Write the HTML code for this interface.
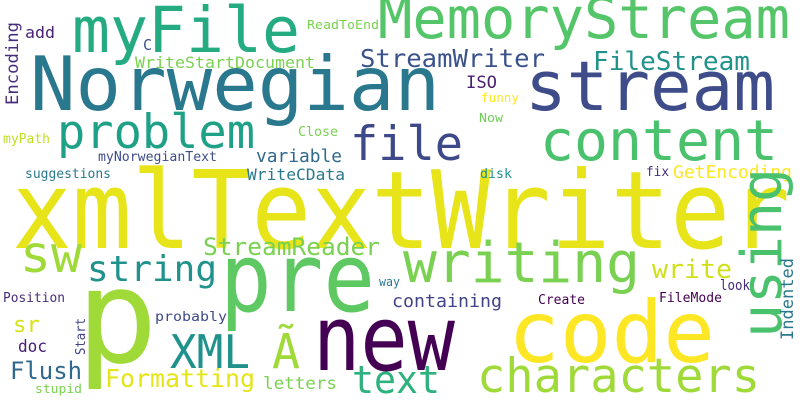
<!DOCTYPE html>
<html><head><meta charset="utf-8"><style>
html,body{margin:0;padding:0;background:#fff;width:800px;height:400px;overflow:hidden}
svg text{font-family:"DejaVu Sans Mono","Liberation Mono",monospace}
</style></head><body>
<svg id="cloud" width="800" height="400" viewBox="0 0 800 400" xmlns="http://www.w3.org/2000/svg">
<rect width="800" height="400" fill="#fff"/>
</svg>
<script>
const words=["xmlTextWriter","Norwegian","stream","MemoryStream","myFile","file","content","problem","StreamWriter","FileStream","ISO","funny","Now","ReadToEnd","C","WriteStartDocument","Encoding","add","Close","myPath","myNorwegianText","variable","suggestions","WriteCData","disk","fix","GetEncoding","sw","string","StreamReader","pre","p","writing","write","using","Indented","look","containing","Create","FileMode","way","code","new","XML","Ã","text","characters","Position","probably","sr","Start","doc","Flush","Formatting","letters","stupid"];
const sizes=[108,75,69,57,63,47,56,47,25,26,17,12,12,12,15,16,17,16,13,13,13,18,13,16,13,13,18,51,36,24,95,130,56,26,56,17,14,18,13,13,12,86,90,46,48,38,47,13,13,22,13,17,24,25,17,12];
const xs=[12,30,525,378,72,350,540,57,360,593,466,481,479,307,143,135,18,25,298,3,98,256,25,247,480,646,673,20,87,203,220,76,403,652,781,793,720,392,538,659,379,508,313,170,272,352,477,3,155,13,85,18,10,105,263,35];
const ys=[248,110,110,38,52,160,160,148,67,70,88,102,122,29,50,68,105,38,136,143,161,162,178,180,178,176,178,272,281,255,311,362,282,278,338,340,290,307,304,302,286,362,370,368,368,393,392,302,321,332,355,352,379,387,389,393];
const lens=[778,410,250,412,228,113,238,198,185,157,31,38,24,72,9,180,83,30,40,47,119,86,86,98,32,23,119,62,130,177,155,82,237,80,170,82,30,110,47,63,21,207,142,80,28,88,283,62,72,27,37,29,72,150,74,47];
const vert=[0,0,0,0,0,0,0,0,0,0,0,0,0,0,0,0,1,0,0,0,0,0,0,0,0,0,0,0,0,0,0,0,0,0,1,1,0,0,0,0,0,0,0,0,0,0,0,0,0,0,1,0,0,0,0,0];
const colors=["#e7e419","#2a788e","#3e4c8a","#54c568","#25ab82","#3e4989","#4ac16d","#1fa187","#3b528b","#21918c","#481f70","#fde725","#6ece58","#7ad151","#3b528b","#7ad151","#472d7b","#482173","#7ad151","#c2df23","#3e4c8a","#31688e","#2a788e","#2a788e","#21918c","#472d7b","#fde725","#a0da39","#20928c","#7ad151","#5ec962","#a0da39","#7ad151","#d0e11c","#4ac16d","#2a788e","#472d7b","#414487","#440154","#440154","#2a788e","#fde725","#440154","#21918c","#a0da39","#2db27d","#a0da39","#472d7b","#3e4a89","#d8e219","#414487","#482173","#31688e","#e5e419","#7ad151","#7ad151"];
const svg=document.getElementById('cloud');
const NS="http://www.w3.org/2000/svg";
words.forEach((w,i)=>{
  const t=document.createElementNS(NS,'text');
  
  
  t.setAttribute('font-size',sizes[i]);
  t.setAttribute('fill',colors[i]);
  t.setAttribute('textLength',lens[i]);
  t.setAttribute('lengthAdjust','spacingAndGlyphs');
  if(vert[i]){
    t.setAttribute('x',0);t.setAttribute('y',0);
    t.setAttribute('transform','translate('+xs[i]+','+ys[i]+') rotate(-90)');
  }else{
    t.setAttribute('x',xs[i]);t.setAttribute('y',ys[i]);
  }
  t.textContent=w;
  svg.appendChild(t);
});
</script>
</body></html>
